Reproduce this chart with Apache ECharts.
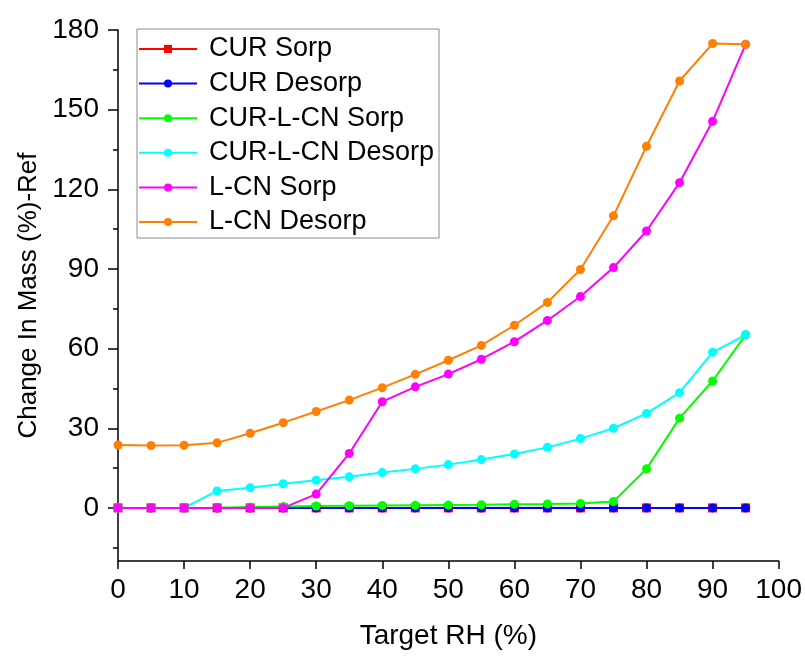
<!DOCTYPE html>
<html>
<head>
<meta charset="utf-8">
<script src="https://cdn.jsdelivr.net/npm/echarts@6/dist/echarts.min.js"></script>
<style>
  html, body { margin: 0; padding: 0; background: #fff; }
  #chart { width: 805px; height: 656px; }
</style>
</head>
<body>
<div id="chart"></div>
<script>
// Target relative humidity steps (%)
const targetRH = [0, 5, 10, 15, 20, 25, 30, 35, 40, 45, 50, 55, 60, 65, 70, 75, 80, 85, 90, 95];

// Change in mass (%) relative to reference, per sample and branch
const curSorp = [0, 0, 0, 0, 0, 0, 0, 0, 0, 0, 0, 0, 0, 0, 0, 0, 0, 0, 0, 0];
const curDesorp = [0, 0, 0, 0, 0, 0, 0, 0, 0, 0, 0, 0, 0, 0, 0, 0, 0, 0, 0, 0];
const curLcnSorp = [0, 0, 0, 0.1, 0.3, 0.5, 0.7, 0.8, 0.9, 1.0, 1.1, 1.2, 1.4, 1.5, 1.7, 2.4, 14.7, 33.8, 47.8, 65.2];
const curLcnDesorp = [0, 0, 0, 6.4, 7.6, 9.1, 10.4, 11.7, 13.3, 14.7, 16.3, 18.2, 20.3, 22.8, 26.1, 30.0, 35.6, 43.4, 58.6, 65.2];
const lcnSorp = [0, 0, 0, 0, 0, 0, 5.2, 20.5, 40.0, 45.6, 50.4, 56.0, 62.6, 70.6, 79.6, 90.5, 104.3, 122.5, 145.6, 174.6];
const lcnDesorp = [23.7, 23.5, 23.6, 24.5, 28.1, 32.1, 36.3, 40.6, 45.3, 50.3, 55.6, 61.2, 68.8, 77.4, 89.8, 110.0, 136.2, 160.8, 174.9, 174.6];

// Tick positions on the mass axis
const yMajorTicks = [0, 30, 60, 90, 120, 150, 180];
const yMinorTicks = [-15, 15, 45, 75, 105, 135, 165];

const seriesDefs = [
  { name: 'CUR Sorp', values: curSorp, color: '#ff0000', symbol: 'rect' },
  { name: 'CUR Desorp', values: curDesorp, color: '#0000ff', symbol: 'circle' },
  { name: 'CUR-L-CN Sorp', values: curLcnSorp, color: '#00ff00', symbol: 'circle' },
  { name: 'CUR-L-CN Desorp', values: curLcnDesorp, color: '#00ffff', symbol: 'circle' },
  { name: 'L-CN Sorp', values: lcnSorp, color: '#ff00ff', symbol: 'circle' },
  { name: 'L-CN Desorp', values: lcnDesorp, color: '#ff8000', symbol: 'circle' }
];

const font = 'Arial, "Liberation Sans", sans-serif';

const chart = echarts.init(document.getElementById('chart'), null, { renderer: 'canvas' });

chart.setOption({
  animation: false,
  backgroundColor: '#ffffff',
  textStyle: { fontFamily: font },
  grid: { left: 118, right: 26, top: 30, bottom: 95, containLabel: false },
  legend: {
    orient: 'vertical',
    left: 137,
    top: 29,
    padding: [5, 5, 1, 1],
    itemWidth: 58,
    itemHeight: 10,
    itemGap: 4.6,
    borderColor: '#8a8a8a',
    borderWidth: 1,
    textStyle: { fontFamily: font, fontSize: 27, color: '#000', padding: [0, 0, 0, 7], lineHeight: 30 },
    data: seriesDefs.map(s => s.name)
  },
  xAxis: {
    type: 'value',
    min: 0,
    max: 100,
    interval: 10,
    name: 'Target RH (%)',
    nameLocation: 'middle',
    nameGap: 61,
    nameTextStyle: { fontFamily: font, fontSize: 28, color: '#000' },
    axisLine: { onZero: false, lineStyle: { color: '#000', width: 1.5 } },
    axisTick: { inside: false, length: 8, lineStyle: { color: '#000', width: 1.5 } },
    axisLabel: { fontFamily: font, fontSize: 28, color: '#000', margin: 15 },
    splitLine: { show: false }
  },
  yAxis: [
    {
      type: 'value',
      min: -20,
      max: 180,
      name: 'Change In Mass (%)-Ref',
      nameLocation: 'middle',
      nameRotate: 90,
      nameGap: 75,
      nameTextStyle: { fontFamily: font, fontSize: 26, color: '#000' },
      axisLine: { show: true, onZero: false, lineStyle: { color: '#000', width: 1.5 } },
      axisTick: { show: true, inside: false, length: 10, customValues: yMajorTicks, lineStyle: { color: '#000', width: 1.5 } },
      axisLabel: { fontFamily: font, fontSize: 28, color: '#000', margin: 19, customValues: yMajorTicks },
      splitLine: { show: false }
    },
    {
      type: 'value',
      min: -20,
      max: 180,
      position: 'left',
      axisLine: { show: false, onZero: false },
      axisTick: { show: true, inside: false, length: 5, customValues: yMinorTicks, lineStyle: { color: '#000', width: 1.5 } },
      axisLabel: { show: false },
      splitLine: { show: false }
    }
  ],
  series: seriesDefs.map(s => ({
    name: s.name,
    type: 'line',
    yAxisIndex: 0,
    data: targetRH.map((x, i) => [x, s.values[i]]),
    symbol: s.symbol,
    symbolSize: 9,
    showAllSymbol: true,
    color: s.color,
    lineStyle: { color: s.color, width: 2 },
    itemStyle: { color: s.color },
    emphasis: { disabled: true }
  }))
});
</script>
</body>
</html>
